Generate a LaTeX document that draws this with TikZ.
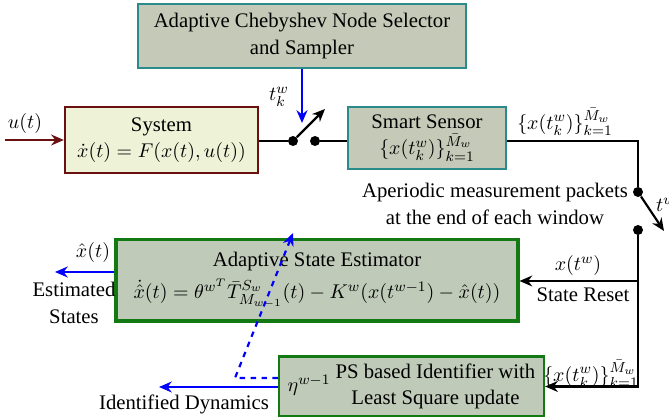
\documentclass[tikz,border=0pt]{standalone}
\usepackage{amsmath}
\usepackage{fontspec}
\setmainfont{Liberation Serif}
\usetikzlibrary{arrows.meta}
\definecolor{boxgray}{HTML}{C5C9B7}
\definecolor{estgray}{HTML}{BFCAB8}
\definecolor{sysfill}{HTML}{EEF3D8}
\definecolor{sysline}{HTML}{6A1010}
\definecolor{tealline}{HTML}{2B8A8A}
\definecolor{greenline}{HTML}{137A13}

\begin{document}
\begin{tikzpicture}[x=0.55pt,y=-0.55pt,>={Stealth[length=7pt,width=6pt]},
  font=\fontsize{11.4}{14.5}\selectfont]
  \tikzstyle{block}=[draw,line width=1.2pt,align=center,inner sep=2pt]
  \tikzstyle{sig}=[line width=1.2pt]
  \tikzstyle{dot}=[circle,fill,inner sep=0pt,minimum size=5.5pt]
  \useasboundingbox (0,0) rectangle (669,417);

  % blocks
  \node[block,draw=tealline,fill=boxgray,minimum width=180.4pt,minimum height=35.2pt]
    (sel) at (302,36) {Adaptive Chebyshev Node Selector\\and Sampler};
  \node[block,draw=sysline,fill=sysfill,minimum width=106.2pt,minimum height=36.3pt]
    (sys) at (161.5,140) {System\\$\dot{x}(t)=F(x(t),u(t))$};
  \node[block,draw=tealline,fill=boxgray,minimum width=86.9pt,minimum height=34.1pt]
    (sen) at (427,138) {Smart Sensor\\$\{x(t_k^w)\}_{k=1}^{\bar{M}_w}$};
  \node[block,draw=greenline,line width=1.7pt,fill=estgray,minimum width=221.1pt,minimum height=44.6pt]
    (est) at (317,280.5) {Adaptive State Estimator\\[3pt]
    $\dot{\hat{x}}(t)=\theta^{w^T}\bar{T}^{S_w}_{M_{w-1}}(t)-K^w(x(t^{w-1})-\hat{x}(t))$};
  \node[block,draw=greenline,fill=estgray,minimum width=145.8pt,minimum height=28pt]
    (ps) at (411.5,386.5) {$\eta^{w-1}$ {\setlength{\tabcolsep}{0pt}\begin{tabular}{c}PS based Identifier with\\Least Square update\end{tabular}}};

  % switches
  \node[dot] (sw1) at (293,141) {};
  \node[dot] (sw2) at (315,141) {};
  \node[dot] (r1) at (638,192) {};
  \node[dot] (r2) at (638,230) {};
  \coordinate (swtip) at (325,109);
  \coordinate (rtip) at (664,231);
  \coordinate (tk) at (302,123);
  \coordinate (uin) at (5,140);
  \coordinate (estout) at (55,272);
  \coordinate (idout) at (159,387);
  \coordinate (bend) at (235,378);
  \coordinate (dtip) at (293,233);
  \coordinate (reset) at (638,281);

  % connectors
  \draw[sig,->,draw=sysline] (uin) -- (sys.west);
  \draw[sig] (sys.east |- sw1) -- (sw1);
  \draw[sig,->] (sw1) -- (swtip);
  \draw[sig] (sw2) -- (sen.west |- sw2);
  \draw[sig,->,blue] (sel.south) -- (tk);
  \draw[sig] (sen.east |- sw1) -- (sw1 -| r1) -- (r1);
  \draw[sig,->] (r1) -- (rtip);
  \draw[sig,->] (r2) |- (ps.east);
  \draw[sig,->] (reset) -- (est.east |- reset);
  \draw[sig,->,blue] (est.west |- estout) -- (estout);
  \draw[sig,->,blue] (ps.west |- idout) -- (idout);
  \draw[sig,->,blue,dashed] (bend -| ps.west) -- (bend) -- (dtip);

  % labels
  \node (lu) at (25,124) {$u(t)$};
  \node (ltk) at (279,97) {$t_k^w$};
  \node (ltw) at (666,205) {$t^w$};
  \node (lset) at (565,122) {$\{x(t_k^w)\}_{k=1}^{\bar{M}_w}$};
  \node[inner sep=0pt] (lset2) at (591,374) {$\{x(t_k^w)\}_{k=1}^{\bar{M}_w}$};
  \node[align=center] (lape) at (495,204) {Aperiodic measurement packets\\at the end of each window};
  \node (lxtw) at (578,266) {$x(t^w)$};
  \node (lres) at (583,295) {State Reset};
  \node (lxh) at (93,253) {$\hat{x}(t)$};
  \node[align=center] (lest) at (74,303) {Estimated\\States};
  \node (lid) at (184,404) {Identified Dynamics};
\end{tikzpicture}
\end{document}
